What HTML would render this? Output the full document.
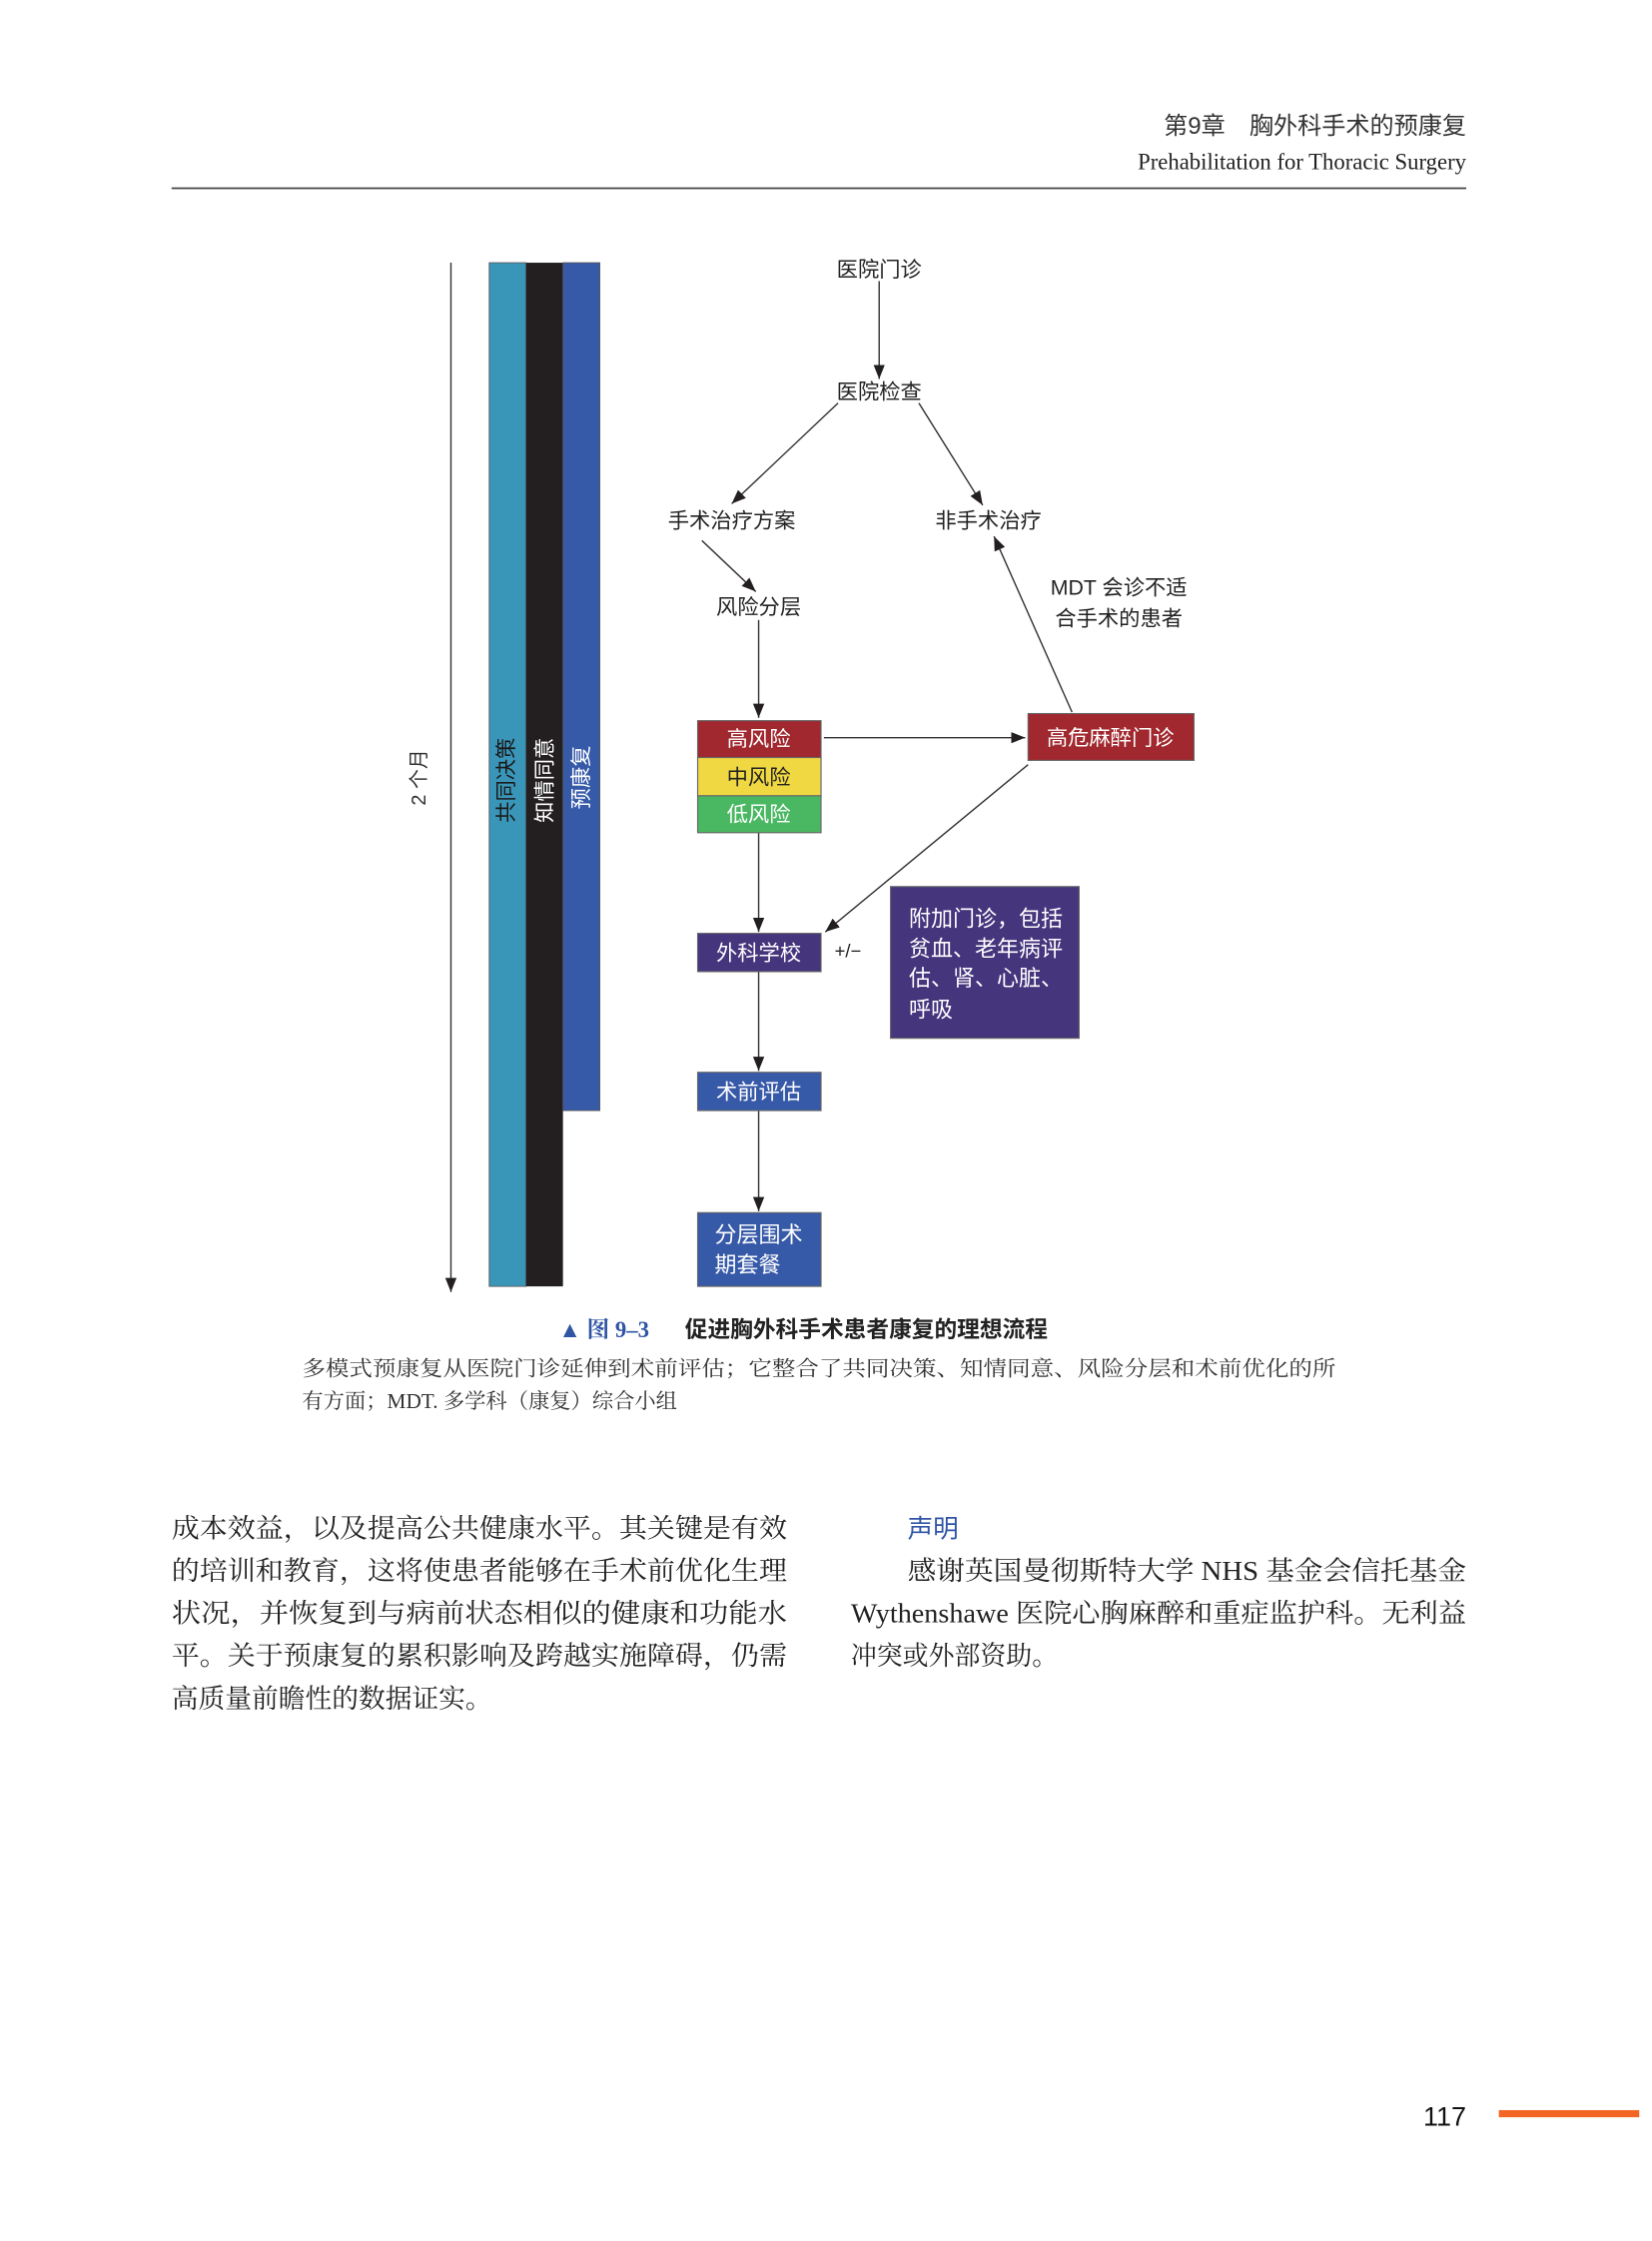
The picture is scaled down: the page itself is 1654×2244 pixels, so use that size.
<!DOCTYPE html>
<html><head><meta charset="utf-8"><style>
html,body{margin:0;padding:0;background:#fff}
svg{display:block}
.s{font-family:"Liberation Sans","Noto Sans CJK SC",sans-serif}
.r{font-family:"Liberation Serif","Noto Serif CJK SC",serif}
</style></head><body>
<svg width="1654" height="2244" viewBox="0 0 1165 1580" xmlns="http://www.w3.org/2000/svg">
<defs>
<marker id="a" viewBox="0 0 10 10" refX="10" refY="5" markerWidth="10" markerHeight="10" orient="auto" markerUnits="userSpaceOnUse"><path d="M0,1 L10,5 L0,9 z" fill="#231f20"/></marker>
</defs>
<!-- header -->
<text x="1034" y="94" text-anchor="end" font-size="17" fill="#333" class="s">第9章　胸外科手术的预康复</text>
<text x="1034" y="119" text-anchor="end" font-size="16" fill="#222" class="r">Prehabilitation for Thoracic Surgery</text>
<line x1="121" y1="132.5" x2="1034" y2="132.5" stroke="#444" stroke-width="1.2"/>

<!-- timeline -->
<line x1="318" y1="185" x2="318" y2="911" stroke="#333" stroke-width="1" marker-end="url(#a)"/>
<text transform="translate(300,548) rotate(-90)" text-anchor="middle" font-size="14" fill="#333" class="s">2 个月</text>
<rect x="345" y="185" width="26" height="722" fill="#3a96b9" stroke="#555" stroke-width="0.6"/>
<rect x="371" y="185" width="26" height="722" fill="#231f20"/>
<rect x="397" y="185" width="26" height="598" fill="#3659a8" stroke="#555" stroke-width="0.6"/>
<text transform="translate(362,550) rotate(-90)" text-anchor="middle" font-size="15" fill="#1a1a1a" class="s">共同决策</text>
<text transform="translate(389,550) rotate(-90)" text-anchor="middle" font-size="15" fill="#fff" class="s">知情同意</text>
<text transform="translate(415,548) rotate(-90)" text-anchor="middle" font-size="15" fill="#fff" class="s">预康复</text>

<!-- flow -->
<g class="s" font-size="15" fill="#222" text-anchor="middle">
<text x="620" y="195">医院门诊</text>
<text x="620" y="281">医院检查</text>
<text x="516" y="372">手术治疗方案</text>
<text x="697" y="372">非手术治疗</text>
<text x="535" y="433">风险分层</text>
<text x="789" y="419" class="s">MDT 会诊不适</text>
<text x="789" y="441">合手术的患者</text>
<text x="598" y="675" font-size="13">+/−</text>
</g>
<g stroke="#333" stroke-width="1" fill="none" marker-end="url(#a)">
<line x1="620" y1="198" x2="620" y2="267"/>
<line x1="591" y1="284" x2="516" y2="355"/>
<line x1="648" y1="284" x2="693" y2="356"/>
<line x1="495" y1="381" x2="533" y2="417"/>
<line x1="535" y1="437" x2="535" y2="506"/>
<line x1="581" y1="520" x2="723" y2="520"/>
<line x1="756" y1="502" x2="701" y2="378"/>
<line x1="725" y1="539" x2="582" y2="657"/>
<line x1="535" y1="587" x2="535" y2="657"/>
<line x1="535" y1="685" x2="535" y2="755"/>
<line x1="535" y1="783" x2="535" y2="854"/>
</g>
<g stroke="#666" stroke-width="0.8">
<rect x="492" y="508" width="87" height="26" fill="#a0282e"/>
<rect x="492" y="534" width="87" height="27" fill="#f0d843"/>
<rect x="492" y="561" width="87" height="26" fill="#4ab862"/>
<rect x="725" y="503" width="117" height="33" fill="#a0282e"/>
<rect x="492" y="658" width="87" height="27" fill="#45357d"/>
<rect x="628" y="625" width="133" height="107" fill="#45357d"/>
<rect x="492" y="756" width="87" height="27" fill="#3659a8"/>
<rect x="492" y="855" width="87" height="52" fill="#3659a8"/>
</g>
<g class="s" font-size="15" text-anchor="middle" fill="#fff">
<text x="535" y="526">高风险</text>
<text x="535" y="553" fill="#222">中风险</text>
<text x="535" y="579">低风险</text>
<text x="783" y="525">高危麻醉门诊</text>
<text x="535" y="677">外科学校</text>
<text x="535" y="775">术前评估</text>
</g>
<g class="s" font-size="15.5" fill="#fff">
<text x="641" y="653">附加门诊，包括</text>
<text x="641" y="674">贫血、老年病评</text>
<text x="641" y="695">估、肾、心脏、</text>
<text x="641" y="717">呼吸</text>
<text x="504" y="876">分层围术</text>
<text x="504" y="897">期套餐</text>
</g>

<!-- caption -->
<text x="394" y="943" font-size="16" fill="#2f55a4" class="r" font-weight="bold">▲ 图 9–3</text>
<text x="483" y="943" font-size="16" fill="#222" class="s" font-weight="bold">促进胸外科手术患者康复的理想流程</text>
<text x="213" y="970" font-size="15" fill="#333" class="r" textLength="729" lengthAdjust="spacingAndGlyphs">多模式预康复从医院门诊延伸到术前评估；它整合了共同决策、知情同意、风险分层和术前优化的所</text>
<text x="213" y="993" font-size="15" fill="#333" class="r">有方面；MDT. 多学科（康复）综合小组</text>

<!-- body -->
<g class="r" font-size="19" fill="#222">
<text x="121" y="1084" textLength="434" lengthAdjust="spacingAndGlyphs">成本效益，以及提高公共健康水平。其关键是有效</text>
<text x="121" y="1114" textLength="434" lengthAdjust="spacingAndGlyphs">的培训和教育，这将使患者能够在手术前优化生理</text>
<text x="121" y="1144" textLength="434" lengthAdjust="spacingAndGlyphs">状况，并恢复到与病前状态相似的健康和功能水</text>
<text x="121" y="1174" textLength="434" lengthAdjust="spacingAndGlyphs">平。关于预康复的累积影响及跨越实施障碍，仍需</text>
<text x="121" y="1204" textLength="226" lengthAdjust="spacingAndGlyphs">高质量前瞻性的数据证实。</text>
<text x="640" y="1084" fill="#2f55a4" class="s" font-size="18">声明</text>
<text x="640" y="1114" textLength="394" lengthAdjust="spacingAndGlyphs">感谢英国曼彻斯特大学 NHS 基金会信托基金</text>
<text x="600" y="1144" textLength="434" lengthAdjust="spacingAndGlyphs">Wythenshawe 医院心胸麻醉和重症监护科。无利益</text>
<text x="600" y="1174" textLength="146" lengthAdjust="spacingAndGlyphs">冲突或外部资助。</text>
</g>

<!-- footer -->
<text x="1034" y="1499" text-anchor="end" font-size="19" fill="#111" class="s">117</text>
<rect x="1057" y="1488" width="99" height="5" fill="#f26522"/>
</svg>
</body></html>
